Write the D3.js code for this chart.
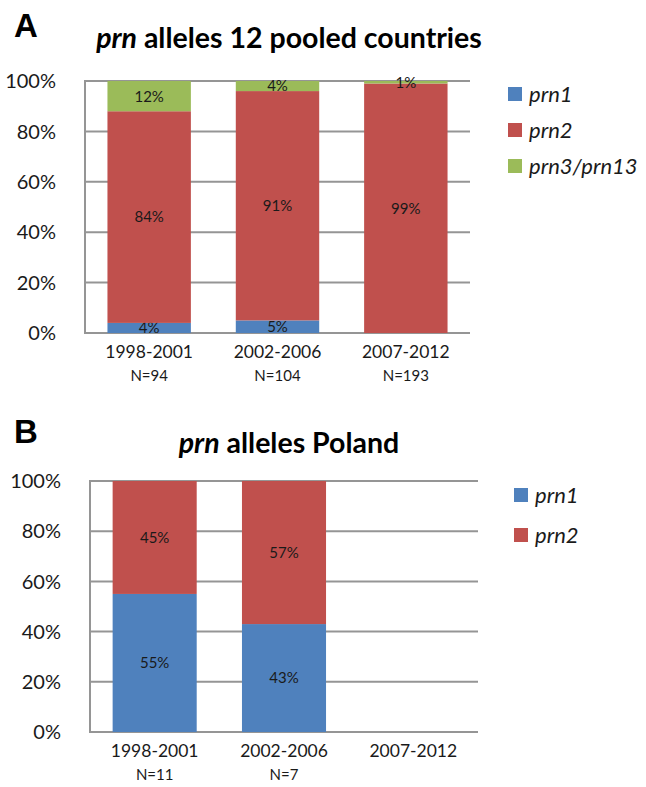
<!DOCTYPE html>
<html>
<head>
<meta charset="utf-8">
<script src="https://cdn.jsdelivr.net/npm/d3@7"></script>
<style>
  body { margin: 0; background: #fff; }
  text { font-family: Lato, "Open Sans", sans-serif; fill: #1a1a1a; }
</style>
</head>
<body>
<svg id="chart" width="646" height="787"></svg>
<script>
// data
var periods = ["1998-2001", "2002-2006", "2007-2012"]
var yTicks = [0, 20, 40, 60, 80, 100]

var pooledN = ["N=94", "N=104", "N=193"]
var pooledPrn1 = [4, 5, 0]
var pooledPrn2 = [84, 91, 99]
var pooledPrn3 = [12, 4, 1]

var polandN = ["N=11", "N=7", ""]
var polandPrn1 = [55, 43, 0]
var polandPrn2 = [45, 57, 0]

var colors = {prn1: "#4f81bd", prn2: "#c0504d", prn3: "#9bbb59"}

var svg = d3.select("#chart")

function draw_panel(opt) {
    var g = svg.append("g")
    var x = d3.scaleBand().domain(periods).range([opt.left, opt.right])
        .paddingInner(0.35).paddingOuter(0.175)
    var y = d3.scaleLinear().domain([0, 100]).range([opt.bottom, opt.top])

    // panel letter + title
    g.append("text").attr("x", opt.letterX).attr("y", opt.letterY)
        .style("font-family", "'Liberation Sans', Arial, sans-serif")
        .style("font-size", "33px").style("font-weight", "bold").style("fill", "#000")
        .text(opt.letter)
    var t = g.append("text").attr("x", opt.titleX).attr("y", opt.titleY)
        .attr("text-anchor", "middle")
        .style("font-size", "28.5px").style("font-weight", "bold").style("fill", "#000")
    t.append("tspan").style("font-style", "italic").text("prn")
    t.append("tspan").text(" alleles " + opt.titleRest)

    // gridlines (behind bars)
    g.selectAll(".grid").data(yTicks).enter().append("line")
        .attr("x1", opt.left).attr("x2", opt.right)
        .attr("y1", function(d) { return y(d) }).attr("y2", function(d) { return y(d) })
        .style("stroke", "#959595").style("stroke-width", 2)
    g.append("line").attr("x1", opt.left).attr("x2", opt.left)
        .attr("y1", y(0) + 1).attr("y2", y(100) - 1)
        .style("stroke", "#959595").style("stroke-width", 2)

    // y tick labels
    g.selectAll(".ytick").data(yTicks).enter().append("text")
        .attr("x", opt.left - 29).attr("y", function(d) { return y(d) })
        .attr("dy", "0.36em").attr("text-anchor", "end")
        .style("font-size", "20px")
        .text(function(d) { return d + "%" })

    // stacked bars
    var stack = d3.stack().keys(opt.series.map(function(s) { return s.key }))
    var rows = periods.map(function(p, i) {
        var r = {period: p}
        opt.series.forEach(function(s) { r[s.key] = s.values[i] })
        return r
    })
    var layers = stack(rows)
    layers.forEach(function(layer) {
        var col = colors[layer.key]
        g.selectAll(".bar-" + layer.key).data(layer).enter().append("rect")
            .attr("x", function(d) { return x(d.data.period) })
            .attr("width", x.bandwidth())
            .attr("y", function(d) { return y(d[1]) })
            .attr("height", function(d) { return y(d[0]) - y(d[1]) })
            .style("fill", col)
        g.selectAll(".lab-" + layer.key).data(layer.filter(function(d) { return d[1] - d[0] > 0 }))
            .enter().append("text")
            .attr("x", function(d) { return x(d.data.period) + x.bandwidth() / 2 })
            .attr("y", function(d) { return y((d[0] + d[1]) / 2) })
            .attr("dy", "0.36em").attr("text-anchor", "middle")
            .style("font-size", "15px")
            .text(function(d) { return (d[1] - d[0]) + "%" })
    })

    // category labels
    g.selectAll(".xlab").data(periods).enter().append("text")
        .attr("x", function(d) { return x(d) + x.bandwidth() / 2 })
        .attr("y", opt.bottom + 25).attr("text-anchor", "middle")
        .style("font-size", "17.5px")
        .text(function(d) { return d })
    g.selectAll(".nlab").data(opt.n).enter().append("text")
        .attr("x", function(d, i) { return x(periods[i]) + x.bandwidth() / 2 })
        .attr("y", opt.bottom + 48).attr("text-anchor", "middle")
        .style("font-size", "15px")
        .text(function(d) { return d })

    // legend
    opt.series.forEach(function(s, i) {
        var ly = opt.legendY + i * opt.legendStep
        g.append("rect").attr("x", opt.legendX).attr("y", ly - 7)
            .attr("width", 14).attr("height", 14).style("fill", colors[s.key])
        g.append("text").attr("x", opt.legendX + 21).attr("y", ly)
            .attr("dy", "0.36em").style("font-size", "22px").style("font-style", "italic")
            .text(s.name)
    })
}

draw_panel({
    letter: "A", letterX: 14, letterY: 37, titleX: 289, titleY: 48, titleRest: "12 pooled countries",
    left: 85, right: 470, top: 81, bottom: 333,
    series: [
        {key: "prn1", name: "prn1", values: pooledPrn1},
        {key: "prn2", name: "prn2", values: pooledPrn2},
        {key: "prn3", name: "prn3/prn13", values: pooledPrn3}
    ],
    n: pooledN,
    legendX: 508, legendY: 94, legendStep: 36
})

draw_panel({
    letter: "B", letterX: 14, letterY: 443, titleX: 289, titleY: 453, titleRest: "Poland",
    left: 90, right: 478, top: 481, bottom: 732,
    series: [
        {key: "prn1", name: "prn1", values: polandPrn1},
        {key: "prn2", name: "prn2", values: polandPrn2}
    ],
    n: polandN,
    legendX: 514, legendY: 495, legendStep: 40
})
</script>
</body>
</html>
